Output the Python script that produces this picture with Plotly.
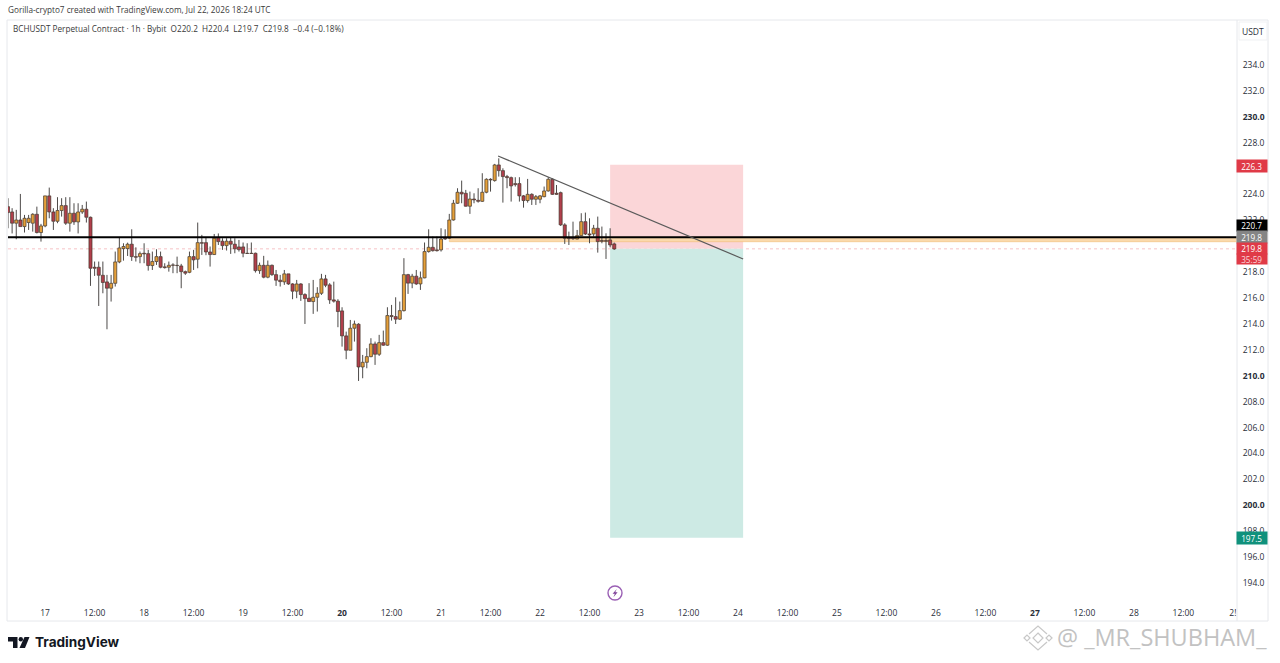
import pandas as pd
import plotly.graph_objects as go

opens = [223.06,222.65,221.78,222.03,221.52,221.83,221.78,222.47,221.06,221.57,223.89,222.65,221.93,222.76,223.14,221.78,222.55,221.88,222.65,222.86,
222.24,218.38,218.38,217.76,217.25,216.76,217.14,218.79,219.82,219.82,220.16,219.20,219.20,219.46,219.43,218.51,218.82,219.20,218.41,218.38,
218.56,218.53,218.48,218.04,217.99,219.20,219.00,220.28,220.28,219.56,219.36,220.67,220.39,220.05,220.39,220.16,219.95,219.95,219.46,219.46,
219.46,218.12,218.53,217.61,218.53,217.81,217.38,217.25,217.87,217.09,216.53,217.09,216.27,215.99,215.73,216.06,216.37,217.48,217.02,215.86,
215.76,215.01,213.08,211.97,213.67,213.98,210.68,211.04,211.48,212.46,211.66,212.56,212.36,214.65,214.57,214.37,215.03,217.81,217.15,217.69,
217.09,217.56,219.59,219.92,219.72,219.72,220.62,220.62,222.03,223.32,224.17,224.09,223.09,223.65,223.55,223.47,224.17,225.17,225.07,226.28,
225.84,225.38,225.30,224.84,224.84,223.89,223.53,224.01,223.63,223.63,223.83,224.27,225.17,224.09,224.14,221.65,220.67,220.67,220.56,220.82,
221.90,220.95,220.95,221.39,220.44,220.44,220.49,220.18]
highs = [223.71,222.94,222.81,224.04,222.42,222.42,222.55,223.06,221.73,223.89,224.53,222.94,223.79,223.71,223.79,223.79,223.32,223.32,223.19,223.45,
222.29,218.82,218.82,218.82,217.79,217.79,219.59,220.70,220.23,220.28,221.31,219.92,219.59,220.23,219.72,219.59,219.77,219.59,218.69,218.82,
218.69,219.20,218.64,218.12,219.59,219.72,221.83,220.88,220.70,219.98,220.95,220.99,220.62,220.62,220.70,220.62,220.49,220.29,220.23,220.29,
219.51,218.74,219.26,218.90,218.59,218.17,217.79,218.17,217.87,217.15,217.40,217.15,216.37,217.15,217.40,216.84,217.87,217.79,217.15,217.27,
215.91,215.29,213.41,214.31,214.26,214.06,211.61,212.13,212.90,212.64,213.16,213.49,215.29,215.47,216.06,215.73,219.08,217.87,217.87,218.17,
218.05,220.29,221.31,220.75,220.75,221.39,221.31,222.50,223.58,224.48,225.07,224.35,224.22,224.09,224.48,225.64,225.25,225.25,226.36,226.79,
226.02,225.51,225.38,225.33,225.33,223.96,225.20,224.09,223.96,223.96,224.61,225.33,225.25,224.73,224.22,221.78,221.13,221.90,221.26,222.55,
222.60,222.16,221.65,222.29,221.52,221.00,221.39,220.28]
lows = [221.39,220.99,220.54,221.52,221.06,221.26,221.13,220.99,220.36,221.47,222.16,221.26,221.78,222.29,221.65,221.13,221.65,220.99,222.50,221.83,
216.94,217.71,215.39,216.37,213.59,215.73,216.89,218.69,218.89,219.25,218.87,218.82,218.69,218.69,218.12,218.17,218.56,218.30,218.28,218.04,
217.92,217.92,216.76,217.79,217.92,218.17,218.30,219.33,219.31,218.43,219.33,220.10,219.72,219.67,219.41,219.46,219.59,219.15,219.41,219.41,
217.97,217.87,217.53,217.53,217.71,216.94,216.89,217.02,217.02,215.91,215.99,215.78,214.00,215.73,214.78,214.96,216.24,216.84,215.55,215.65,
213.75,212.25,211.28,211.97,212.64,209.60,209.81,210.58,211.43,210.84,211.53,212.31,212.31,214.26,214.00,214.31,214.96,216.32,216.76,217.02,
216.63,217.53,219.51,219.59,219.59,219.59,220.49,220.56,221.98,223.27,223.32,223.06,222.50,223.32,223.37,223.42,224.09,224.22,224.99,225.38,
223.37,224.48,223.45,224.61,223.45,222.98,223.37,223.19,223.19,223.32,223.78,224.22,223.96,223.96,221.57,220.18,220.10,220.49,220.54,220.80,
220.87,220.23,220.75,219.51,220.23,219.02,219.92,219.72]
closes = [222.60,221.78,222.03,221.52,222.16,222.16,222.47,221.06,221.57,223.89,222.65,221.93,222.76,223.14,221.78,222.55,221.88,222.65,222.86,222.24,
218.30,218.30,217.76,217.20,216.76,217.14,218.79,219.87,219.98,220.16,219.20,219.15,219.43,219.41,218.51,218.82,219.20,218.38,218.35,218.53,
218.53,218.51,218.04,217.92,219.20,218.95,220.28,220.23,219.56,219.36,220.62,220.36,220.05,220.39,220.16,219.80,219.74,219.46,219.44,219.44,
218.12,218.53,217.61,218.53,217.81,217.38,217.27,217.87,217.09,216.53,217.09,216.27,215.96,215.73,216.06,216.37,217.48,216.99,215.86,215.76,
214.96,213.08,211.97,213.67,214.00,210.68,211.04,211.48,212.46,211.66,212.56,212.36,214.65,214.57,214.37,215.03,217.81,217.15,217.69,217.09,
217.56,219.59,219.92,219.66,219.66,220.56,220.56,222.03,223.32,224.17,224.04,223.09,223.65,223.58,223.47,224.17,225.17,225.12,226.28,225.84,
225.38,225.30,224.66,224.76,223.89,223.53,224.01,223.63,223.83,223.89,224.27,225.17,224.01,224.01,221.65,220.62,220.59,220.59,220.82,221.90,
220.95,220.87,221.39,220.36,220.38,220.38,220.10,219.79]

first_bar = "2026-07-16 15:00"
y_ticks = [194,196,198,200,202,204,206,208,210,212,214,216,218,220,222,224,226,228,230,232,234]
bold_y = [200,210,230]
day_ticks = ["2026-07-%02d 00:00" % d for d in range(17, 30)]
day_labels = [str(d) for d in range(17, 29)] + ["2!"]
bold_days = ["20", "27"]
noon_ticks = ["2026-07-%02d 12:00" % d for d in range(17, 29)]

hline_price = 220.7
band_low = 220.35
last_price = 219.8
stop_price = 226.3
target_price = 197.5
pos_start = "2026-07-22 17:00"
pos_end = "2026-07-24 01:15"
trend_x = ["2026-07-21 13:50", "2026-07-24 01:15"]
trend_y = [226.97, 219.02]
band_start = "2026-07-21 02:00"

FONT = "Open Sans, Noto Sans, sans-serif"
TXT = "#2a2e39"
UP = "#e5a03a"
DOWN = "#b23f4c"
EDGE = "#3f3226"
WICK = "#4d4a48"
times = pd.date_range(first_bar, periods=len(opens), freq="h")
x_range = ["2026-07-16 15:00", "2026-07-29 01:00"]
y_range = [192.61, 237.47]
L, R, T, B = 8/1280, 1237/1280, 1-20/663, 1-601/663


def px(x):
    return x/1280


def py(y):
    return 1-y/663


def path(points, close=True):
    d = "M" + " L".join("%.5f %.5f" % (px(a), py(b)) for a, b in points)
    return d + (" Z" if close else "")


shapes = [
    dict(type="rect", xref="x", yref="y", x0=pos_start, x1=pos_end, y0=last_price, y1=stop_price,
         fillcolor="#fbd6d8", line_width=0, layer="below"),
    dict(type="rect", xref="x", yref="y", x0=pos_start, x1=pos_end, y0=target_price, y1=last_price,
         fillcolor="#cdeae4", line_width=0, layer="below"),
    dict(type="rect", xref="x", yref="y", x0=band_start, x1=x_range[1], y0=band_low, y1=hline_price,
         fillcolor="#fad9ac", line=dict(color="#f0b566", width=0.5), layer="below"),
    dict(type="line", xref="paper", yref="y", x0=L, x1=R, y0=last_price, y1=last_price,
         line=dict(color="#f6c3c6", width=1, dash="dot"), layer="below"),
    dict(type="line", xref="paper", yref="y", x0=L, x1=R, y0=hline_price, y1=hline_price,
         line=dict(color="#000000", width=2)),
    dict(type="line", xref="x", yref="y", x0=trend_x[0], x1=trend_x[1], y0=trend_y[0], y1=trend_y[1],
         line=dict(color="#5a5a5a", width=1.2)),
]

# wicks run from the extreme to the body edge only, so the bodies stay uncovered
wick_x, wick_y = [], []
for t, o, h, l, c in zip(times, opens, highs, lows, closes):
    wick_x += [t, t, None, t, t, None]
    wick_y += [h, max(o, c), None, min(o, c), l, None]

fig = go.Figure()
fig.add_trace(go.Scatter(x=wick_x, y=wick_y, mode="lines", line=dict(color=WICK, width=1),
                         hoverinfo="skip", showlegend=False, connectgaps=False))
fig.add_trace(go.Bar(
    x=times,
    y=[abs(c-o) for o, c in zip(opens, closes)],
    base=[min(o, c) for o, c in zip(opens, closes)],
    width=3600000*0.74,
    marker=dict(color=[UP if c >= o else DOWN for o, c in zip(opens, closes)],
                line=dict(color=EDGE, width=0.7)),
    hoverinfo="skip", showlegend=False))

ann = []


def text(x, y, s, size=8.5, color=TXT, anchor="center", bg=None, font=FONT, w=None, h=None):
    ann.append(dict(xref="paper", yref="paper", xanchor=anchor, yanchor="middle",
                    x=px(x), y=py(y), text=s, showarrow=False, align="center",
                    font=dict(size=size, color=color, family=font),
                    bgcolor=bg, width=w, height=h, borderpad=0))


text(7, 9.5, "Gorilla-crypto7 created with TradingView.com, Jul 22, 2026 18:24 UTC", 8.2, "#3a3a3a", "left")
text(12, 29, "BCHUSDT Perpetual Contract · 1h · Bybit  O220.2  H220.4  L219.7  C219.8  −0.4 (−0.18%)", 8.2, "#3a3a3a", "left")
text(1253, 31, "USDT", 8.5)
for x, y, s, bg, col, h in [(1251.5, 166, "226.3", "#e03a47", "#ffffff", 12),
                            (1251.5, 225.5, "220.7", "#000000", "#ffffff", 11),
                            (1251.5, 237, "219.8", "#858585", "#ffffff", 12),
                            (1251.5, 248.5, "219.8", "#e03a47", "#ffffff", 11),
                            (1251.5, 259, "35:59", "#e03a47", "#fbd5d8", 10),
                            (1251.5, 537.5, "197.5", "#10917c", "#ffffff", 12)]:
    text(x, y, s, 8.2, col, bg=bg, w=29.5, h=h)

# lightning event marker
shapes.append(dict(type="circle", xref="paper", yref="paper", x0=px(608), x1=px(622),
                   y0=py(600), y1=py(586), line=dict(color="#9a5fb4", width=1.4), fillcolor="#ffffff"))
shapes.append(dict(type="path", xref="paper", yref="paper", line_width=0, fillcolor="#7d3f98",
                   path=path([(616.8, 589), (612.6, 593.8), (614.9, 593.8), (613.4, 597.2), (617.6, 592.2), (615.2, 592.2)])))

# frame lines
for x0, y0, x1, y1 in [(7, 20, 1268, 20), (7, 621, 1268, 621), (7, 20, 7, 621), (1268, 20, 1268, 621), (1237, 20, 1237, 621)]:
    shapes.append(dict(type="line", xref="paper", yref="paper", x0=px(x0), x1=px(x1),
                       y0=py(y0), y1=py(y1), line=dict(color="#e6e8ec", width=1)))
shapes.append(dict(type="rect", xref="paper", yref="paper", x0=px(1239), x1=px(1267), y0=py(40), y1=py(22),
                   line=dict(color="#f0f1f3", width=1)))

# TradingView mark
LOGO = "#131722"
for pts in [[(8, 637), (17.5, 637), (17.5, 648), (13, 648), (13, 641.5), (8, 641.5)],
            [(24.5, 637), (29.5, 637), (25, 648), (19.5, 648)]]:
    shapes.append(dict(type="path", xref="paper", yref="paper", line_width=0, fillcolor=LOGO, path=path(pts)))
shapes.append(dict(type="circle", xref="paper", yref="paper", x0=px(18.6), x1=px(23), y0=py(641.4), y1=py(637),
                   line_width=0, fillcolor=LOGO))
text(33.5, 642, "<b>TradingView</b>", 13.6, "#131722", "left", font="Inter, Open Sans, sans-serif")

# watermark: diamond logo and handle
MARK = "#c8c8c8"
cx, cy = 1038, 638
for pts, closed in [
    ([(cx, cy-5), (cx+5, cy), (cx, cy+5), (cx-5, cy)], True),
    ([(cx-9, cy-4), (cx, cy-12), (cx+9, cy-4)], False),
    ([(cx-9, cy+4), (cx, cy+12), (cx+9, cy+4)], False),
    ([(cx-14, cy), (cx-11, cy-3), (cx-8, cy), (cx-11, cy+3)], True),
    ([(cx+14, cy), (cx+11, cy-3), (cx+8, cy), (cx+11, cy+3)], True),
]:
    shapes.append(dict(type="path", xref="paper", yref="paper", path=path(pts, closed),
                       line=dict(color=MARK, width=1.2)))
text(1056, 637, "@ _MR_SHUBHAM_", 23.5, "#c2c2c2", "left", font="Open Sans, sans-serif")

day_text = ["<b>%s</b>" % d if d in bold_days else d for d in day_labels]
all_ticks = day_ticks + noon_ticks
all_text = day_text + ["12:00"] * len(noon_ticks)
ytext = ["<b>%.1f</b>" % v if v in bold_y else "%.1f" % v for v in y_ticks]

fig.update_layout(
    width=1280, height=663, margin=dict(l=0, r=0, t=0, b=0),
    paper_bgcolor="#ffffff", plot_bgcolor="#ffffff", showlegend=False, barmode="overlay",
    shapes=shapes, annotations=ann,
    font=dict(family=FONT, size=8.5, color=TXT),
    xaxis=dict(domain=[L, R], range=x_range, type="date",
               tickmode="array", tickvals=all_ticks, ticktext=all_text, ticks="outside", ticklen=4,
               tickcolor="rgba(0,0,0,0)", showgrid=False, zeroline=False, showline=False, tickangle=0,
               tickfont=dict(size=8.5, color=TXT, family=FONT)),
    yaxis=dict(domain=[B, T], range=y_range, side="right", tickmode="array", tickvals=y_ticks, ticktext=ytext,
               showgrid=False, zeroline=False, showline=False, ticks="outside", ticklen=3, tickcolor="rgba(0,0,0,0)",
               tickfont=dict(size=8.5, color=TXT, family=FONT)),
)
fig.write_html("out.html", config={"displayModeBar": False},
               post_script="document.body.style.margin='0';document.body.style.overflow='hidden';")
